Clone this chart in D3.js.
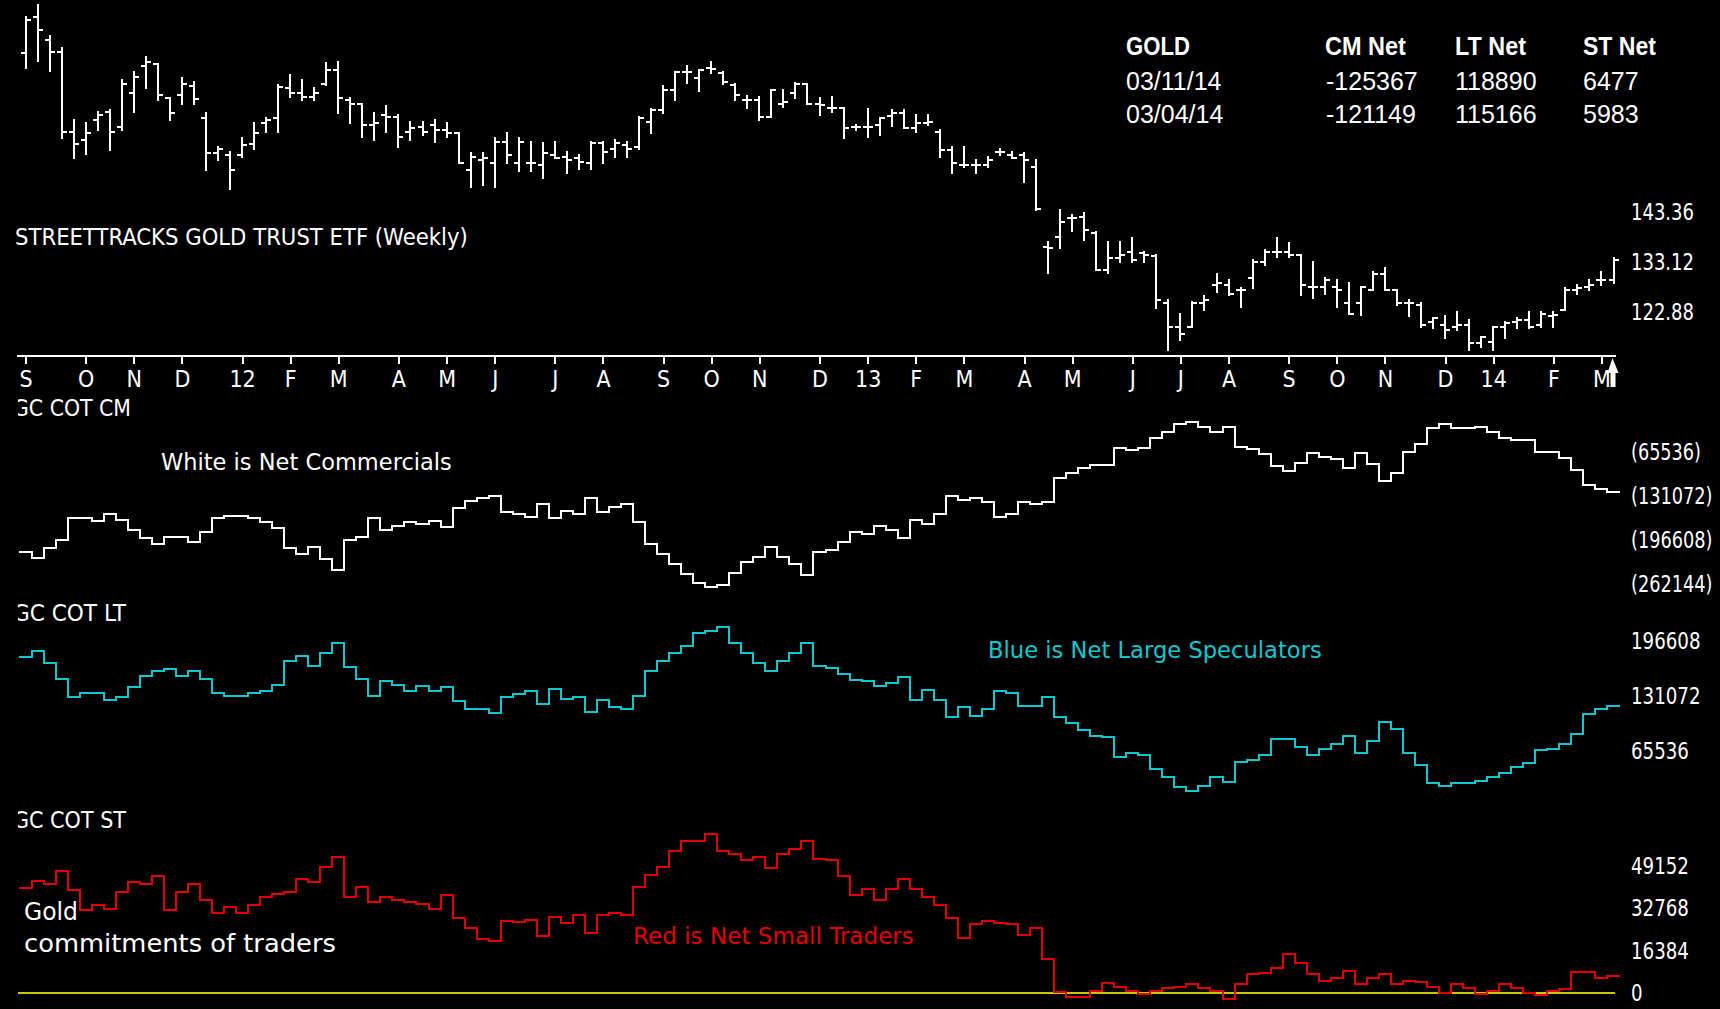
<!DOCTYPE html>
<html><head><meta charset="utf-8">
<script src="https://cdn.jsdelivr.net/npm/d3@7"></script>
<style>
html,body{margin:0;padding:0;background:#000;overflow:hidden}
svg{display:block}
</style></head><body>
<svg id="c" width="1720" height="1009"></svg>
<script>
// ---------- DATA ----------
const firstWeek = "2011-08-29";
const monthLetters = ["J","F","M","A","M","J","J","A","S","O","N","D"];

const priceOpen = [175.8,183.2,178.5,176.1,159.7,158.0,162.1,163.8,160.8,167.6,
173.1,173.7,166.6,167.3,169.1,162.5,155.3,155.0,155.0,157.3,
161.5,162.5,168.6,167.6,166.9,169.6,172.4,166.2,165.5,161.1,
163.2,162.8,159.7,160.8,161.1,160.1,159.4,151.9,153.9,153.3,
157.7,153.3,153.3,152.9,155.0,154.6,154.3,153.3,157.4,156.3,
157.0,156.7,161.8,164.2,168.3,172.0,170.7,172.7,171.7,169.3,
166.2,166.2,162.8,165.5,167.6,169.6,165.5,164.5,164.5,160.8,
160.8,161.1,162.9,163.5,160.4,161.5,159.7,156.0,152.9,152.9,
152.9,155.6,155.0,155.0,152.6,136.2,138.2,142.0,142.3,138.9,
131.4,133.8,135.2,134.8,134.2,124.6,119.8,119.8,124.6,128.3,
128.3,127.3,129.7,133.1,135.2,135.2,134.5,128.0,128.0,128.0,
124.6,124.6,127.3,130.7,127.3,124.6,124.2,120.8,120.2,119.8,
120.2,116.4,116.7,119.8,120.8,121.2,120.2,121.9,123.2,127.3,
128.0,129.4,129.4];
const priceHigh = [183.3,185.7,179.3,176.9,162.1,161.6,163.8,164.2,170.3,172.0,
175.1,173.7,166.6,170.7,170.0,163.5,156.7,155.6,158.4,161.5,
162.5,169.3,171.4,170.3,168.6,173.9,174.1,166.6,165.5,163.5,
165.0,163.2,161.8,161.8,162.1,161.5,159.4,155.3,155.3,158.4,
159.4,158.4,157.7,157.4,157.7,155.6,155.0,157.7,157.7,158.0,
157.7,162.8,164.3,169.1,172.0,173.2,172.4,174.1,172.0,169.6,
167.1,166.9,168.3,168.3,169.8,169.6,166.6,166.9,164.5,161.1,
164.3,162.5,164.2,164.2,163.2,163.2,160.1,156.7,156.7,153.9,
154.6,156.3,155.6,155.3,153.9,137.2,143.7,142.7,143.0,139.3,
137.2,137.2,137.9,135.2,134.5,125.3,122.5,124.9,126.0,130.7,
129.4,127.7,133.5,135.5,137.9,136.9,134.5,133.1,129.7,129.4,
128.7,128.0,131.1,131.8,127.3,125.3,124.6,121.5,121.9,122.9,
121.2,117.8,119.8,120.8,121.5,122.9,122.9,122.9,127.7,128.3,
129.4,131.1,133.8];
const priceLow = [172.7,174.2,172.2,158.4,154.3,155.2,160.1,156.0,160.1,163.8,
168.6,166.2,162.1,165.5,165.4,151.9,153.9,148.1,154.6,156.3,
159.7,159.7,166.9,166.2,166.2,169.3,163.5,161.5,158.7,158.0,
159.7,156.7,158.0,159.1,157.7,158.7,153.3,148.5,148.8,148.5,
153.3,151.6,151.6,150.2,154.3,151.2,152.2,152.2,153.3,154.6,
154.6,156.3,159.5,163.5,166.2,169.8,168.1,171.7,169.6,166.2,
164.5,162.1,162.8,164.9,166.6,165.5,163.2,163.8,158.4,160.1,
158.7,159.1,160.9,160.4,159.7,161.1,154.6,151.2,152.6,151.2,
152.6,155.0,154.3,149.5,143.7,130.9,135.9,139.5,137.6,131.4,
130.9,133.1,133.1,133.1,123.6,115.0,117.1,119.8,123.2,127.0,
126.3,123.9,127.7,132.4,134.1,134.1,126.3,125.6,126.6,123.9,
122.5,122.2,127.3,127.3,124.2,121.9,119.8,119.5,117.4,119.1,
115.0,115.7,115.0,117.4,119.5,119.5,119.8,119.8,123.2,126.6,
127.3,128.3,128.7];
const priceClose = [182.6,180.6,176.1,159.7,157.3,159.4,163.2,159.7,169.6,171.0,
174.1,167.3,163.5,169.6,166.4,155.3,156.3,151.9,157.0,159.4,
162.1,169.0,167.6,166.9,167.6,172.4,166.6,165.5,161.1,161.5,
162.8,158.7,160.4,159.7,160.1,159.4,153.3,154.6,154.3,157.7,
155.0,157.7,153.3,155.3,154.3,153.9,153.6,157.4,155.6,157.4,
156.3,162.5,164.2,168.3,172.0,172.0,172.4,172.5,170.0,167.3,
166.2,162.8,168.3,165.9,169.6,165.5,165.2,164.5,160.6,160.8,
160.8,162.5,163.5,160.4,161.5,161.8,156.0,153.3,152.9,152.9,
153.9,155.6,154.3,153.9,144.0,135.9,141.3,142.0,139.6,131.4,
133.8,134.5,133.5,134.5,125.3,119.8,118.4,124.6,125.3,128.7,
126.6,127.3,133.1,135.2,135.2,134.5,128.3,128.0,129.4,127.3,
122.5,128.0,130.7,127.3,124.6,124.6,120.2,121.5,119.1,120.2,
116.4,117.8,119.8,120.5,121.2,119.8,122.5,122.2,127.3,127.7,
128.3,129.4,133.5];

const cmNet = [-215000,-223900,-209000,-196600,-164300,-164300,-167800,-158400,-166800,-181700,
-194100,-203100,-191600,-191600,-200100,-184200,-164300,-160900,-160900,-164300,
-169300,-179200,-209000,-218000,-206500,-225400,-241300,-196600,-191600,-164300,
-181700,-175800,-169300,-172800,-167800,-176800,-149400,-138000,-134600,-131100,
-155400,-158400,-161900,-143500,-164300,-152900,-158400,-134600,-155400,-147000,
-143000,-169300,-203100,-218000,-232900,-247800,-260200,-266100,-263600,-245300,
-228900,-221400,-206500,-221400,-232900,-248700,-214000,-211500,-199100,-185200,
-188200,-175800,-181700,-194100,-166800,-173300,-157900,-131100,-137000,-134600,
-140500,-161900,-158400,-140500,-143000,-140500,-104800,-96300,-89900,-84900,
-84900,-60100,-62600,-59100,-45200,-36200,-24300,-21400,-27800,-36200,
-27800,-57600,-61600,-69000,-86400,-93800,-81400,-66500,-72500,-76500,
-89900,-66500,-83400,-108200,-96300,-66000,-54100,-30300,-24300,-30300,
-30300,-27800,-35300,-44200,-47700,-47700,-66000,-66000,-74000,-92400,
-114700,-121149,-125367];
const ltNet = [177100,184300,170000,151300,129500,134200,134200,126700,129500,141400,
155300,160500,162800,155300,160500,151300,134200,131500,131500,134200,
136600,144200,172400,179100,167200,181900,193800,165200,151300,131500,
148500,144200,137400,143400,136600,141400,124700,115600,115600,110400,
129500,133500,136600,121500,139400,127500,129500,112400,126700,117600,
115600,131500,160500,172400,181900,191000,205700,208100,212900,193800,
181900,170000,160500,172400,181900,193800,167200,164400,157300,150500,
148500,143400,146200,153300,126700,138600,126700,105700,117600,107600,
115600,136600,134200,119600,119600,129500,105700,98500,90600,83800,
81800,58000,62800,60800,44100,34200,23000,18300,24200,34200,
29000,52000,54800,61200,79800,79800,70700,61200,67900,73900,
83800,62800,77800,99700,91700,62800,49200,27000,24200,27000,
27000,29400,35000,38900,46900,50800,66700,67900,73900,85800,
109600,115166,118890];
const stNet = [40500,43500,42100,47400,39900,32200,34100,32700,39000,42900,
42000,45100,32200,38900,42100,36000,30900,33400,31100,34100,
37300,38200,39000,44200,43000,48900,52800,37300,41200,35400,
37300,36000,35100,34300,32700,38000,28900,25100,20900,20300,
28000,27400,28300,22100,29600,27000,30200,23400,30200,31100,
30200,41200,45700,48900,55100,59000,59000,61500,55100,53700,
51300,52800,48300,53700,55800,59000,51900,51300,45100,38000,
40400,35800,40400,44300,40400,37300,34100,28900,21200,26600,
28000,27200,26600,22500,25100,13200,500,-1400,-1400,900,
4000,2500,800,-400,800,1800,2500,3400,1800,800,
-2300,3400,7200,7900,9600,15000,11800,7400,4700,5700,
8700,3400,5700,7400,3400,4800,4100,2500,100,3400,
1800,-500,800,3400,1800,100,-800,800,1600,8000,
8000,5983,6477];

const priceTicks = [122.88, 133.12, 143.36];
const cmTicks = [-65536, -131072, -196608, -262144];
const ltTicks = [65536, 131072, 196608];
const stTicks = [0, 16384, 32768, 49152];

const tableHeader = ["GOLD", "CM Net", "LT Net", "ST Net"];
const tableDates = ["03/11/14", "03/04/14"];
const tableCM = [-125367, -121149];
const tableLT = [118890, 115166];
const tableST = [6477, 5983];

// ---------- DRAW ----------
const svg = d3.select("#c");
svg.append("rect").attr("width", 1720).attr("height", 1009).attr("fill", "#000");

const pixFont = "'Liberation Sans Narrow','Arial Narrow','DejaVu Sans Condensed','Liberation Sans',Arial,sans-serif";
const verFont = "'DejaVu Sans',Verdana,sans-serif";
const hdrFont = "'Liberation Sans',Arial,sans-serif";
const CYAN = "#12c8d0", RED = "#e40000", YEL = "#c8c800", WH = "#ffffff";

const n = priceClose.length;
const start = d3.timeParse("%Y-%m-%d")(firstWeek);
const weeks = d3.range(n).map(i => d3.timeDay.offset(start, 7 * i));

const x = d3.scaleLinear().domain([0, n - 1]).range([25.5, 1613.5]);
const step = x(1) - x(0);

const yP = d3.scaleLinear().domain([122.88, 143.36]).range([311.7, 211.7]);
const yCM = d3.scaleLinear().domain([-65536, -262144]).range([452, 584]);
const yLT = d3.scaleLinear().domain([65536, 196608]).range([751, 641]);
const yST = d3.scaleLinear().domain([0, 49152]).range([993, 866]);

// width helper for the bitmap-like axis font
function labW(s) {
  let w = 0;
  for (const ch of s) w += (ch === "(" || ch === ")") ? 6 : (ch === ".") ? 5 : 11.6;
  return w;
}
// squeeze a text horizontally to a target width with a real transform
function fit(sel, wFn) {
  sel.each(function (d, k) {
    const nat = this.getComputedTextLength();
    const w = typeof wFn === "function" ? wFn(d, k) : wFn;
    const s = nat > 0 ? w / nat : 1;
    const x0 = +this.getAttribute("x"), y0 = +this.getAttribute("y");
    d3.select(this).attr("x", 0).attr("y", 0)
      .attr("transform", `translate(${x0},${y0}) scale(${s},1)`);
  });
}

// ---- price bars ----
const bars = svg.append("g").attr("stroke", WH).attr("stroke-width", 2).attr("shape-rendering", "crispEdges");
d3.range(n).forEach(i => {
  const g = bars.append("g");
  g.append("line").attr("x1", x(i)).attr("x2", x(i)).attr("y1", yP(priceHigh[i]) - 1).attr("y2", yP(priceLow[i]) + 1);
  g.append("line").attr("x1", x(i) - 5).attr("x2", x(i)).attr("y1", yP(priceOpen[i])).attr("y2", yP(priceOpen[i]));
  g.append("line").attr("x1", x(i)).attr("x2", x(i) + 5).attr("y1", yP(priceClose[i])).attr("y2", yP(priceClose[i]));
});

// price labels
svg.append("g").selectAll("text").data(priceTicks).join("text")
  .attr("x", 1631).attr("y", d => yP(d) + 8)
  .attr("font-family", pixFont).attr("font-size", 23).attr("fill", WH)
  .text(d => d.toFixed(2))
  .call(fit, d => labW(d.toFixed(2)));

// title
svg.append("text").attr("x", 15).attr("y", 245)
  .attr("font-family", pixFont).attr("font-size", 23).attr("fill", WH)
  .text("STREETTRACKS GOLD TRUST ETF (Weekly)")
  .call(fit, 453);

// time axis
const tickIdx = [], tickLab = [];
weeks.forEach((w, i) => {
  const fri = d3.timeDay.offset(w, 4), prevFri = d3.timeDay.offset(w, -3);
  if (fri.getMonth() !== prevFri.getMonth()) {
    tickIdx.push(i);
    tickLab.push(fri.getMonth() === 0 ? d3.timeFormat("%y")(fri) : monthLetters[fri.getMonth()]);
  }
});
svg.append("line").attr("x1", 17).attr("x2", 1616).attr("y1", 356).attr("y2", 356)
  .attr("stroke", WH).attr("stroke-width", 2).attr("shape-rendering", "crispEdges");
const axG = svg.append("g").attr("transform", "translate(0,356)")
  .call(d3.axisBottom(x).tickValues(tickIdx).tickFormat((d, k) => tickLab[k]).tickSizeOuter(0).tickSizeInner(8).tickPadding(6.4));
axG.select(".domain").remove();
axG.attr("color", WH);
axG.selectAll("line").attr("stroke-width", 2).attr("shape-rendering", "crispEdges");
axG.selectAll("text").attr("font-family", pixFont).attr("font-size", 23).attr("fill", WH);

// cursor marker at end of axis
svg.append("path")
  .attr("d", d3.line()([[x(n - 1) - 1, 358], [x(n - 1) - 6, 373], [x(n - 1) - 3, 373], [x(n - 1) - 3, 387], [x(n - 1) + 2, 387], [x(n - 1) + 2, 373], [x(n - 1) + 5, 373]]) + "Z")
  .attr("fill", WH);

// header table
const colX = [1126, 1325, 1455, 1583];
const hdrW = [64, 81, 71, 73];
svg.append("g").selectAll("text").data(tableHeader).join("text")
  .attr("x", (d, k) => colX[k]).attr("y", 55)
  .attr("font-family", hdrFont).attr("font-weight", "bold").attr("font-size", 25).attr("fill", WH)
  .text(d => d)
  .call(fit, (d, k) => hdrW[k]);
tableDates.forEach((dt, r) => {
  const row = [dt, String(tableCM[r]), String(tableLT[r]), String(tableST[r])];
  svg.append("g").selectAll("text").data(row).join("text")
    .attr("x", (d, k) => colX[k] + (k === 1 ? 1 : 0)).attr("y", 90 + r * 33)
    .attr("font-family", hdrFont).attr("font-size", 25).attr("fill", WH)
    .text(d => d);
});

// panel titles (left edge of the G is clipped as in the source)
svg.append("clipPath").attr("id", "lclip").append("rect").attr("x", 18).attr("y", 380).attr("width", 400).attr("height", 460);
const ptitles = [["GC COT CM", 416, 118], ["GC COT LT", 621, 113], ["GC COT ST", 828, 113]];
svg.append("g").attr("clip-path", "url(#lclip)").selectAll("text").data(ptitles).join("text")
  .attr("x", 13).attr("y", d => d[1])
  .attr("font-family", pixFont).attr("font-size", 23).attr("fill", WH)
  .text(d => d[0])
  .call(fit, d => d[2]);

// step line helper
function stepPath(vals, yS) {
  const pts = vals.map((v, i) => [x(i) - step / 2, yS(v)]);
  pts.push([x(n - 1) + step / 2, yS(vals[n - 1])]);
  return d3.line().curve(d3.curveStepAfter)(pts);
}

// zero line (ST)
svg.append("line").attr("x1", 18).attr("x2", 1615).attr("y1", yST(0)).attr("y2", yST(0))
  .attr("stroke", YEL).attr("stroke-width", 2).attr("shape-rendering", "crispEdges");

svg.append("path").attr("d", stepPath(cmNet, yCM)).attr("fill", "none").attr("stroke", WH).attr("stroke-width", 2).attr("shape-rendering", "crispEdges");
svg.append("path").attr("d", stepPath(ltNet, yLT)).attr("fill", "none").attr("stroke", CYAN).attr("stroke-width", 2).attr("shape-rendering", "crispEdges");
svg.append("path").attr("d", stepPath(stNet, yST)).attr("fill", "none").attr("stroke", RED).attr("stroke-width", 2).attr("shape-rendering", "crispEdges");

// right-hand scale labels
function scaleLabels(ticks, yS, fmt) {
  svg.append("g").selectAll("text").data(ticks).join("text")
    .attr("x", 1631).attr("y", d => yS(d) + 8)
    .attr("font-family", pixFont).attr("font-size", 23).attr("fill", WH)
    .text(d => fmt(d))
    .call(fit, d => labW(fmt(d)));
}
scaleLabels(cmTicks, yCM, d => "(" + Math.abs(d) + ")");
scaleLabels(ltTicks, yLT, d => String(d));
scaleLabels(stTicks, yST, d => String(d));

// annotations
const notes = [
  ["White is Net Commercials", 161, 470, 291, 23, WH],
  ["Blue is Net Large Speculators", 988, 658, 334, 23, CYAN],
  ["Red is Net Small Traders", 633, 944, 281, 23, RED],
  ["Gold", 24, 920, 54, 25, WH],
  ["commitments of traders", 24, 952, 312, 25, WH]
];
svg.append("g").selectAll("text").data(notes).join("text")
  .attr("x", d => d[1]).attr("y", d => d[2])
  .attr("font-family", verFont).attr("font-size", d => d[4]).attr("fill", d => d[5])
  .text(d => d[0])
  .call(fit, d => d[3]);
</script>
</body></html>
